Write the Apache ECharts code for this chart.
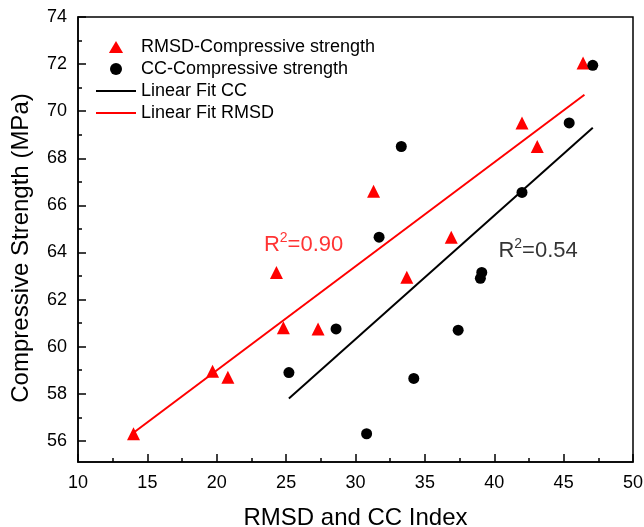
<!DOCTYPE html>
<html>
<head>
<meta charset="utf-8">
<script src="https://cdn.jsdelivr.net/npm/echarts@6/dist/echarts.min.js"></script>
<style>
html, body { margin: 0; padding: 0; background: #fff; }
#chart { width: 644px; height: 527px; }
</style>
</head>
<body>
<div id="chart"></div>
<script>
// values
var rmsdX = [14.0, 19.7, 20.8, 24.3, 24.8, 27.3, 31.3, 33.7, 36.9, 42.0, 43.1, 46.4];
var rmsdY = [56.3, 58.95, 58.7, 63.15, 60.8, 60.75, 66.6, 62.95, 64.65, 69.5, 68.5, 72.05];
var ccX = [25.2, 28.6, 30.8, 31.7, 33.3, 34.2, 37.4, 39.0, 39.1, 42.0, 45.4, 47.1];
var ccY = [58.9, 60.75, 56.3, 64.65, 68.5, 58.65, 60.7, 62.9, 63.15, 66.55, 69.5, 71.95];
var fitCcX = [25.2, 47.1];
var fitCcY = [57.8, 69.3];
var fitRmsdX = [13.9, 46.5];
var fitRmsdY = [56.3, 70.7];
var yMajorTicks = [56, 58, 60, 62, 64, 66, 68, 70, 72, 74];
var yMinorTicks = [57, 59, 61, 63, 65, 67, 69, 71, 73];
var seriesNames = ['RMSD-Compressive strength', 'CC-Compressive strength', 'Linear Fit CC', 'Linear Fit RMSD'];
var r2Rmsd = { x: 23.4, y: 64.3, text: '0.90' };
var r2Cc = { x: 40.3, y: 64.05, text: '0.54' };

var FONT = 'Liberation Sans, Arial, sans-serif';
var LINE_ICON = 'path://M0,0 L40,0 L40,2 L0,2 Z';
var TRI_ICON = 'path://M6.5,0 L13,11 L0,11 Z';
var NO_SPLIT = { show: true, lineStyle: { color: 'rgba(0,0,0,0)' } };

function pairs(xs, ys) {
	var out = [];
	for (var i = 0; i < xs.length; i++) {
		out.push([xs[i], ys[i]]);
	}
	return out;
}

function r2Label(item, color) {
	return {
		type: 'scatter',
		symbolSize: 0,
		silent: true,
		data: [[item.x, item.y]],
		label: {
			show: true,
			position: [0, 0],
			align: 'left',
			verticalAlign: 'middle',
			formatter: 'R{sup|2}=' + item.text,
			color: color,
			fontFamily: FONT,
			fontSize: 22,
			rich: {
				sup: { fontSize: 14, verticalAlign: 'top', color: color, fontFamily: FONT, padding: [0, 0, 14, 0] }
			}
		}
	};
}

var myChart = echarts.init(document.getElementById('chart'));

var option = {
	animation: false,
	backgroundColor: '#fff',
	grid: {
		left: 78, right: 11, top: 17, bottom: 65,
		outerBoundsMode: 'none',
		show: true,
		borderColor: '#000',
		borderWidth: 1.5
	},
	legend: {
		data: [
			{ name: seriesNames[0], icon: TRI_ICON },
			{ name: seriesNames[1], icon: 'circle' },
			{ name: seriesNames[2], icon: LINE_ICON },
			{ name: seriesNames[3], icon: LINE_ICON }
		],
		orient: 'vertical',
		left: 91,
		top: 33,
		itemWidth: 40,
		itemHeight: 12,
		itemGap: 4,
		textStyle: { fontFamily: FONT, fontSize: 18, color: '#000' }
	},
	xAxis: {
		type: 'value',
		min: 10,
		max: 50,
		interval: 5,
		name: 'RMSD and CC Index',
		nameLocation: 'middle',
		nameGap: 44,
		nameTextStyle: { fontFamily: FONT, fontSize: 24, color: '#000' },
		axisLine: { show: true, lineStyle: { color: '#000', width: 1.5 } },
		axisTick: { show: true, inside: true, length: 8, lineStyle: { color: '#000', width: 1.5 } },
		minorTick: { show: true, splitNumber: 2, length: 4, lineStyle: { color: '#000', width: 1.5 } },
		axisLabel: { fontFamily: FONT, fontSize: 18, color: '#000', margin: 12 },
		splitLine: NO_SPLIT
	},
	yAxis: [{
		type: 'value',
		min: 55.1,
		max: 74,
		name: 'Compressive Strength (MPa)',
		nameLocation: 'middle',
		nameGap: 45,
		nameTextStyle: { fontFamily: FONT, fontSize: 24, color: '#000', padding: [0, 17, 0, 0] },
		axisLine: { show: true, lineStyle: { color: '#000', width: 1.5 } },
		axisTick: { show: true, inside: true, length: 8, customValues: yMajorTicks, lineStyle: { color: '#000', width: 1.5 } },
		axisLabel: { fontFamily: FONT, fontSize: 18, color: '#000', margin: 11, customValues: yMajorTicks },
		splitLine: NO_SPLIT
	}, {
		type: 'value',
		position: 'left',
		offset: 0,
		min: 55.1,
		max: 74,
		axisLine: { show: false },
		axisTick: { show: true, inside: true, length: 4, customValues: yMinorTicks, lineStyle: { color: '#000', width: 1.5 } },
		axisLabel: { show: false },
		splitLine: NO_SPLIT
	}],
	series: [{
		name: seriesNames[2],
		type: 'line',
		symbol: 'none',
		data: pairs(fitCcX, fitCcY),
		lineStyle: { color: '#000', width: 2 },
		itemStyle: { color: '#000' }
	}, {
		name: seriesNames[3],
		type: 'line',
		symbol: 'none',
		data: pairs(fitRmsdX, fitRmsdY),
		lineStyle: { color: '#ff0000', width: 2 },
		itemStyle: { color: '#ff0000' }
	}, {
		name: seriesNames[0],
		type: 'scatter',
		symbol: 'triangle',
		symbolSize: 13,
		data: pairs(rmsdX, rmsdY),
		itemStyle: { color: '#ff0000', opacity: 1 }
	}, {
		name: seriesNames[1],
		type: 'scatter',
		symbol: 'circle',
		symbolSize: 11,
		data: pairs(ccX, ccY),
		itemStyle: { color: '#000', opacity: 1 }
	},
	r2Label(r2Rmsd, '#ff0000'),
	r2Label(r2Cc, '#000')]
};

myChart.setOption(option);
</script>
</body>
</html>
